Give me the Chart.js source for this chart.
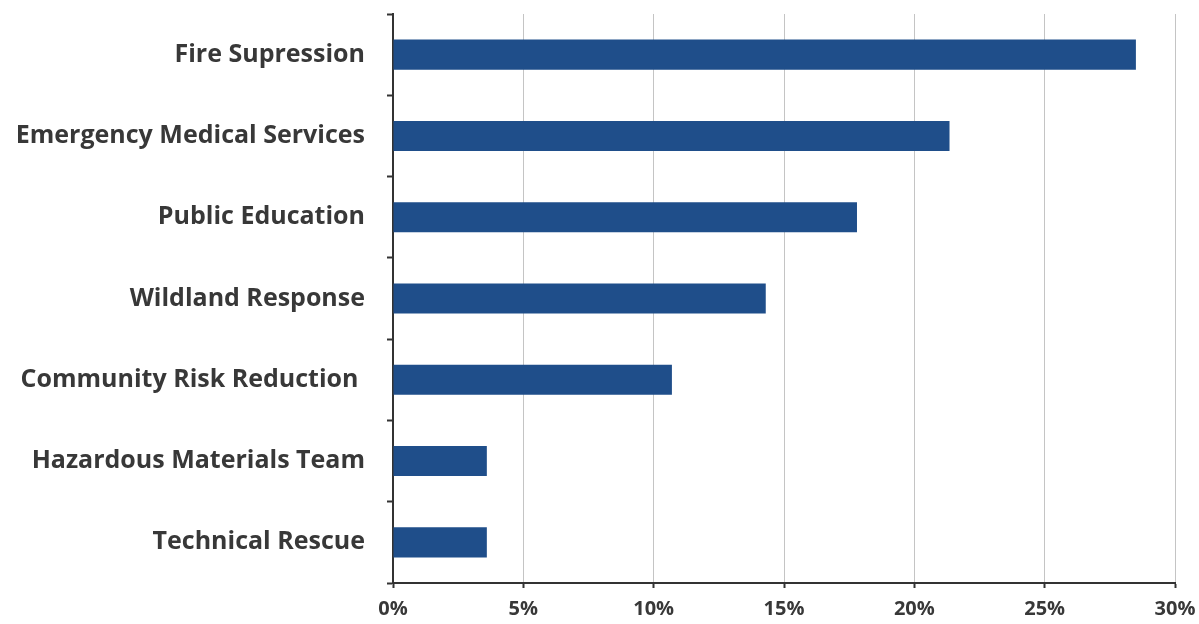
<!DOCTYPE html>
<html>
<head>
<meta charset="utf-8">
<script src="https://cdn.jsdelivr.net/npm/chart.js@4"></script>
<style>
  html, body { margin: 0; padding: 0; background: #fff; }
  #wrap { width: 1199px; height: 624px; }
</style>
</head>
<body>
<div id="wrap"><canvas id="chart" width="1199" height="624"></canvas></div>
<script>
// Categories and shares (percent of respondents)
const categories = [
    'Fire Supression',
    'Emergency Medical Services',
    'Public Education',
    'Wildland Response',
    'Community Risk Reduction ',
    'Hazardous Materials Team',
    'Technical Rescue'
];
const shares = [28.5, 21.35, 17.8, 14.3, 10.7, 3.6, 3.6];
const xTicks = [0, 5, 10, 15, 20, 25, 30];

document.addEventListener('DOMContentLoaded', function() {
    const ctx = document.getElementById('chart').getContext('2d');

    new Chart(ctx, {
        type: 'bar',
        data: {
            labels: categories,
            datasets: [{
                data: shares,
                backgroundColor: '#1f4e8a',
                borderWidth: 0,
                barPercentage: 0.37,
                categoryPercentage: 1
            }]
        },
        options: {
            indexAxis: 'y',
            responsive: false,
            animation: false,
            layout: { padding: { left: 0, right: 24, top: 14, bottom: 0 } },
            plugins: {
                legend: { display: false },
                tooltip: { enabled: false }
            },
            scales: {
                x: {
                    min: 0,
                    max: 30,
                    afterBuildTicks: function(scale) {
                        scale.ticks = xTicks.map(v => ({ value: v }));
                    },
                    afterFit: function(scale) {
                        scale.height = 41;
                        scale.paddingLeft = 0;
                        scale.paddingRight = 0;
                    },
                    grid: {
                        color: function(c) { return c.index === 0 ? 'rgba(0,0,0,0)' : '#c4c4c4'; },
                        lineWidth: 1,
                        tickColor: '#333',
                        tickLength: 5,
                        tickWidth: 2
                    },
                    border: { color: '#333', width: 2 },
                    ticks: {
                        color: '#383838',
                        padding: 9,
                        font: { family: 'Open Sans', size: 20, weight: 'bold' },
                        callback: function(v) { return v + '%'; }
                    }
                },
                y: {
                    afterFit: function(scale) {
                        scale.width = 393;
                        scale.paddingTop = 0;
                        scale.paddingBottom = 0;
                    },
                    grid: {
                        drawOnChartArea: false,
                        tickColor: '#333',
                        tickLength: 6,
                        tickWidth: 2
                    },
                    border: { color: '#333', width: 2 },
                    ticks: {
                        color: '#383838',
                        padding: 22,
                        font: { family: 'Open Sans', size: 25, weight: 'bold' }
                    }
                }
            }
        }
    });
});
</script>
</body>
</html>
